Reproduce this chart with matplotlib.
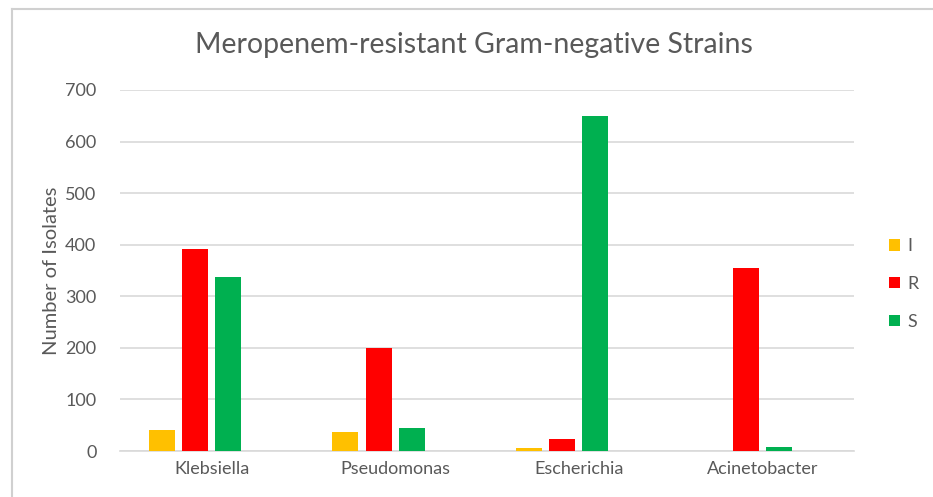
import numpy as np
import matplotlib.pyplot as plt
from matplotlib.lines import Line2D

plt.rcParams['font.family'] = ['Lato', 'DejaVu Sans']

genera = ['Klebsiella', 'Pseudomonas', 'Escherichia', 'Acinetobacter']
series_names = ['I', 'R', 'S']
vals_I = [41, 36, 6, 0]
vals_R = [392, 200, 23, 355]
vals_S = [338, 44, 650, 8]
colors = ['#FFC000', '#FF0000', '#00B050']
yticks = [0, 100, 200, 300, 400, 500, 600, 700]

fig = plt.figure(figsize=(9.33, 4.97), dpi=100)
ax = fig.add_axes([120/933, 1 - 451/497, 734/933, 361/497])

x = np.arange(len(genera))
w = 0.142
step = 0.1815
for i, (vals, c, name) in enumerate(zip([vals_I, vals_R, vals_S], colors, series_names)):
    ax.bar(x + (i - 1.5) * step, vals, width=w, color=c, label=name, zorder=3)

ax.set_xlim(-0.5, len(genera) - 0.5)
ax.set_ylim(0, 700)
ax.set_yticks(yticks)
ax.set_xticks(x)
ax.set_xticklabels(genera)
ax.grid(axis='y', color='#D9D9D9', linewidth=1.2, zorder=0)
for s in ['top', 'right', 'left']:
    ax.spines[s].set_visible(False)
ax.spines['bottom'].set_color('#D9D9D9')
ax.spines['bottom'].set_linewidth(1.2)
ax.tick_params(length=0, colors='#595959', labelsize=13)
ax.tick_params(axis='y', pad=17)
ax.tick_params(axis='x', pad=7)

ax.set_ylabel('Number of Isolates', fontsize=14.5, color='#595959', labelpad=4)
fig.text(474/933, 1 - 45/497, 'Meropenem-resistant Gram-negative Strains',
         ha='center', va='center', fontsize=20.5, color='#595959')

leg = ax.legend(loc='center left', bbox_to_anchor=(873/933, 1 - 284/497),
                bbox_transform=fig.transFigure, frameon=False, fontsize=13,
                handlelength=0.6, handleheight=0.6, handletextpad=0.4,
                labelspacing=1.2)
for t in leg.get_texts():
    t.set_color('#595959')

# screenshot frame
fig.add_artist(Line2D([12/933, 12/933], [0, 1 - 9/497], color='#D0D0D0', lw=1.5,
                      transform=fig.transFigure))
fig.add_artist(Line2D([12/933, 1], [1 - 9/497, 1 - 9/497], color='#D0D0D0', lw=1.5,
                      transform=fig.transFigure))

fig.savefig('out.png', dpi=100)
